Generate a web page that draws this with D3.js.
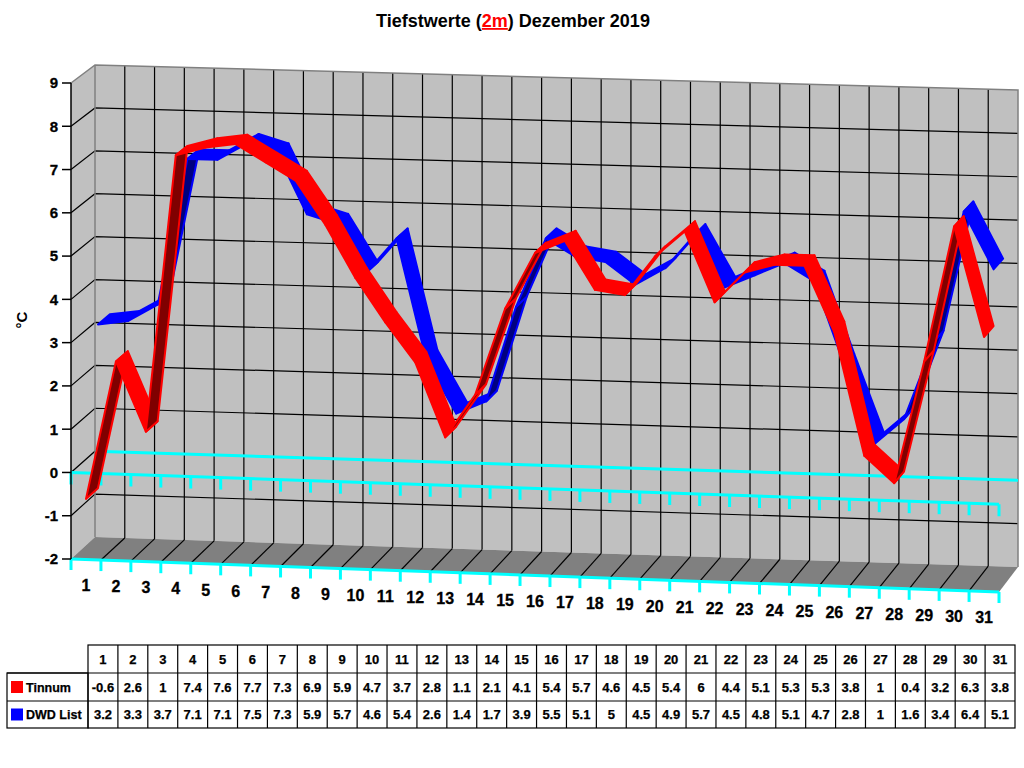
<!DOCTYPE html>
<html>
<head>
<meta charset="utf-8">
<script src="https://cdn.jsdelivr.net/npm/d3@7"></script>
<style>
  body { margin: 0; background: #fff; }
  text { font-family: "Liberation Sans", Arial, sans-serif; font-weight: bold; }
</style>
</head>
<body>
<div id="chart"></div>
<script>
// data
var days = d3.range(1, 32);
var tinnum = [-0.6, 2.6, 1, 7.4, 7.6, 7.7, 7.3, 6.9, 5.9, 4.7, 3.7, 2.8, 1.1, 2.1, 4.1, 5.4,
  5.7, 4.6, 4.5, 5.4, 6, 4.4, 5.1, 5.3, 5.3, 3.8, 1, 0.4, 3.2, 6.3, 3.8];
var dwdList = [3.2, 3.3, 3.7, 7.1, 7.1, 7.5, 7.3, 5.9, 5.7, 4.6, 5.4, 2.6, 1.4, 1.7, 3.9, 5.5,
  5.1, 5, 4.5, 4.9, 5.7, 4.5, 4.8, 5.1, 4.7, 2.8, 1, 1.6, 3.4, 6.4, 5.1];
var yTicks = d3.range(-2, 10);
var seriesNames = ["Tinnum", "DWD List"];

var width = 1024,
  height = 768;

// front plane and back wall scales (fake 3d, slightly tilted)
var xF = d3.scaleLinear().domain([0, 31]).range([71, 999]);
var xB = d3.scaleLinear().domain([0, 31]).range([95, 1018]);
var yF = d3.scaleLinear().domain([-2, 9]).range([559, 83]);
var yB = d3.scaleLinear().domain([-2, 9]).range([537, 65]);

function skewF(v) { return 33 - (v + 2) * 0.6; }
function skewB(v) { return 30 - (v + 2) / 11 * 5; }

// t = position along days (0..31), v = value, z = depth 0 front .. 1 back
function proj(t, v, z) {
  var u = t / 31;
  var xf = xF(t), yf = yF(v) + u * skewF(v);
  var xb = xB(t), yb = yB(v) + u * skewB(v);
  return [xf + (xb - xf) * z, yf + (yb - yf) * z];
}

var line = d3.line();

var svg = d3
  .select("#chart")
  .append("svg")
  .attr("width", width)
  .attr("height", height);

// title
var title = svg.append("text")
  .attr("x", 513)
  .attr("y", 27)
  .attr("text-anchor", "middle")
  .style("font-size", "18px");
title.append("tspan").text("Tiefstwerte (");
title.append("tspan").attr("fill", "#ff0000").attr("text-decoration", "underline").text("2m");
title.append("tspan").text(") Dezember 2019");

// walls and floor
svg.append("path")
  .attr("d", line([proj(0, -2, 1), proj(31, -2, 1), proj(31, 9, 1), proj(0, 9, 1)]) + "Z")
  .attr("fill", "#c0c0c0");
svg.append("path")
  .attr("d", line([proj(0, -2, 0), proj(0, -2, 1), proj(0, 9, 1), proj(0, 9, 0)]) + "Z")
  .attr("fill", "#c0c0c0");
svg.append("path")
  .attr("d", line([proj(0, -2, 0), proj(31, -2, 0), proj(31, -2, 1), proj(0, -2, 1)]) + "Z")
  .attr("fill", "#808080");

// grid lines
var grid = svg.append("g").attr("stroke", "#000").attr("stroke-width", 1.2).attr("fill", "none");
yTicks.filter(function (v) { return v > -2 && v < 9; }).forEach(function (v) {
  grid.append("path").attr("d", line([proj(0, v, 0), proj(0, v, 1), proj(31, v, 1)]));
});
d3.range(1, 31).forEach(function (t) {
  grid.append("path").attr("d", line([proj(t, -2, 1), proj(t, 9, 1)]));
  grid.append("path").attr("d", line([proj(t, -2, 0), proj(t, -2, 1)]));
});

// wall edges
svg.append("path")
  .attr("d", line([proj(0, 9, 0), proj(0, 9, 1), proj(31, 9, 1), proj(31, -2, 1)]))
  .attr("fill", "none").attr("stroke", "#808080").attr("stroke-width", 1.5);
svg.append("path")
  .attr("d", line([proj(0, 9, 1), proj(0, -2, 1)]))
  .attr("fill", "none").attr("stroke", "#808080").attr("stroke-width", 1.5);

// zero line on the back wall
svg.append("path")
  .attr("d", line([proj(0, 0, 1), proj(31, 0, 1)]))
  .attr("fill", "none").attr("stroke", "#00ffff").attr("stroke-width", 3);

// cyan axes on the front plane with ticks
function cyanAxis(v, tickLen) {
  var g = svg.append("g").attr("stroke", "#00ffff").attr("stroke-width", 3).attr("fill", "none");
  g.append("path").attr("d", line([proj(0, v, 0), proj(31, v, 0)]));
  d3.range(0, 32).forEach(function (t) {
    var p = proj(t, v, 0);
    g.append("path").attr("d", line([p, [p[0], p[1] + tickLen]]));
  });
}
cyanAxis(0, 12);
cyanAxis(-2, 11);

// left axis
svg.append("path")
  .attr("d", line([proj(0, -2, 0), proj(0, 9, 0)]))
  .attr("stroke", "#000").attr("stroke-width", 1.5);
yTicks.forEach(function (v) {
  var p = proj(0, v, 0);
  svg.append("path").attr("d", line([[p[0] - 9, p[1]], p])).attr("stroke", "#000").attr("stroke-width", 1.5);
  svg.append("text")
    .attr("x", p[0] - 13)
    .attr("y", p[1])
    .attr("dy", "0.36em")
    .attr("text-anchor", "end")
    .style("font-size", "15px")
    .attr("stroke", "#000")
    .attr("stroke-width", 0.3)
    .text(v);
});

svg.append("text")
  .attr("transform", "translate(27,320) rotate(-90)")
  .attr("text-anchor", "middle")
  .style("font-size", "15px")
  .text("°C");

// day labels
days.forEach(function (d, i) {
  var p = proj(i + 0.5, -2, 0);
  svg.append("text")
    .attr("x", p[0])
    .attr("y", p[1] + 26)
    .attr("dy", "0.36em")
    .attr("text-anchor", "middle")
    .style("font-size", "16px")
    .attr("stroke", "#000")
    .attr("stroke-width", 0.3)
    .text(d);
});

// 3d ribbon for one series
function ribbon(values, z0, z1, color, dark) {
  var g = svg.append("g");
  for (var i = 0; i < values.length - 1; i++) {
    var a0 = proj(i + 0.5, values[i], z0),
      b0 = proj(i + 1.5, values[i + 1], z0),
      b1 = proj(i + 1.5, values[i + 1], z1),
      a1 = proj(i + 0.5, values[i], z1);
    var cross = (b0[0] - a0[0]) * (a1[1] - a0[1]) - (b0[1] - a0[1]) * (a1[0] - a0[0]);
    g.append("path")
      .attr("d", line([a0, b0, b1, a1]) + "Z")
      .attr("fill", cross > 0 ? dark : color)
      .attr("stroke", color)
      .attr("stroke-width", 2)
      .attr("stroke-linejoin", "round");
  }
}
ribbon(dwdList, 0.5, 1, "#0000ff", "#000080");
ribbon(tinnum, 0, 0.5, "#ff0000", "#800000");

// data table
var tx = d3.scaleLinear().domain([0, 31]).range([88, 1015]);
var rows = [645, 673, 701, 728];
var table = svg.append("g").attr("stroke", "#000").attr("stroke-width", 1.2).attr("fill", "none");
table.append("rect").attr("x", tx(0)).attr("y", rows[0]).attr("width", tx(31) - tx(0)).attr("height", rows[3] - rows[0]);
table.append("rect").attr("x", 7).attr("y", rows[1]).attr("width", tx(0) - 7).attr("height", rows[3] - rows[1]);
table.append("line").attr("x1", 7).attr("x2", tx(31)).attr("y1", rows[1]).attr("y2", rows[1]);
table.append("line").attr("x1", 7).attr("x2", tx(31)).attr("y1", rows[2]).attr("y2", rows[2]);
d3.range(1, 31).forEach(function (c) {
  table.append("line").attr("x1", tx(c)).attr("x2", tx(c)).attr("y1", rows[0]).attr("y2", rows[3]);
});

var tableRows = [days, tinnum, dwdList];
tableRows.forEach(function (vals, r) {
  vals.forEach(function (v, c) {
    svg.append("text")
      .attr("x", tx(c + 0.5))
      .attr("y", (rows[r] + rows[r + 1]) / 2)
      .attr("dy", "0.36em")
      .attr("text-anchor", "middle")
      .style("font-size", "13px")
      .attr("stroke", "#000")
      .attr("stroke-width", 0.25)
      .text(v);
  });
});

// legend inside the table
var legendColors = ["#ff0000", "#0000ff"];
seriesNames.forEach(function (name, i) {
  var cy = (rows[i + 1] + rows[i + 2]) / 2;
  svg.append("rect")
    .attr("x", 11).attr("y", cy - 6)
    .attr("width", 12).attr("height", 12)
    .attr("fill", legendColors[i]);
  svg.append("text")
    .attr("x", 26)
    .attr("y", cy)
    .attr("dy", "0.36em")
    .style("font-size", "12.5px")
    .attr("stroke", "#000")
    .attr("stroke-width", 0.25)
    .text(name);
});
</script>
</body>
</html>
